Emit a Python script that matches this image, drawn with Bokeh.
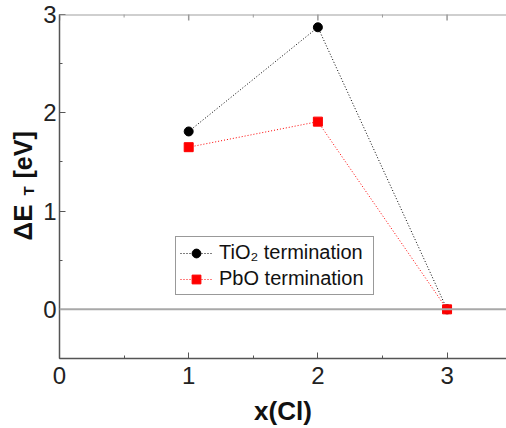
import math
from bokeh.plotting import figure
from bokeh.layouts import row
from bokeh.models import (FixedTicker, Span, Label, Legend, LegendItem, Range1d)
from bokeh.embed import file_html
from bokeh.resources import INLINE

# Chlorine content and formation energies for the two surface terminations
x_cl = [1, 2, 3]
tio2_energy = [1.81, 2.87, 0.0]
pbo_energy = [1.65, 1.91, 0.0]
x_ticks = [0, 1, 2, 3]
x_minor = [0.5, 1.5, 2.5, 3.5]
y_ticks = [0, 1, 2, 3]
y_minor = [-0.5, 0.5, 1.5, 2.5]
y_top = 3

FONT = "Liberation Sans"
LABEL_W = 38
BORDER_TOP = 14
BORDER_BOTTOM = 70

# narrow strip carrying the rotated y-axis title with its subscript
side = figure(width=LABEL_W, height=428, output_backend="svg", toolbar_location=None,
              x_axis_type=None, y_axis_type=None,
              min_border_left=0, min_border_right=0,
              min_border_top=BORDER_TOP, min_border_bottom=BORDER_BOTTOM,
              x_range=Range1d(0, 1), y_range=Range1d(0, 1))
side.outline_line_color = None
side.grid.visible = False
lbl_kw = dict(x_units="screen", y_units="screen", angle=math.pi / 2,
              text_font=FONT, text_color="#111111", text_baseline="alphabetic",
              text_align="left")
side.add_layout(Label(x=22, y=118, text="ΔE", text_font_size="26px",
                      text_font_style="bold", **lbl_kw))
side.add_layout(Label(x=28, y=163, text="T", text_font_size="15px",
                      text_font_style="bold", **lbl_kw))
side.add_layout(Label(x=22, y=180, text="[eV]", text_font_size="25px",
                      text_font_style="bold", **lbl_kw))

p = figure(width=506 - LABEL_W, height=428, output_backend="svg", toolbar_location=None,
           x_range=Range1d(0, 3.46), y_range=Range1d(-0.5, y_top),
           min_border_left=59 - LABEL_W, min_border_right=0,
           min_border_top=BORDER_TOP, min_border_bottom=BORDER_BOTTOM)
p.grid.visible = False
p.outline_line_color = None
p.background_fill_color = "white"
p.border_fill_color = "white"

def style_axis(ax, line_color="#555555", width=1.5):
    ax.axis_line_color = line_color
    ax.axis_line_width = width
    ax.major_tick_line_color = line_color
    ax.minor_tick_line_color = line_color
    ax.major_tick_in = 6
    ax.major_tick_out = 0
    ax.minor_tick_in = 3
    ax.minor_tick_out = 0
    ax.major_label_text_font = FONT
    ax.major_label_text_font_size = "24px"
    ax.major_label_text_color = "#222222"

xa = p.xaxis[0]
xa.ticker = FixedTicker(ticks=x_ticks, minor_ticks=x_minor)
style_axis(xa)
xa.major_label_standoff = 8
xa.axis_label = "x(Cl)"
xa.axis_label_text_font = FONT
xa.axis_label_text_font_style = "bold"
xa.axis_label_text_font_size = "26px"
xa.axis_label_text_color = "#111111"
xa.axis_label_standoff = 9

ya = p.yaxis[0]
ya.ticker = FixedTicker(ticks=y_ticks, minor_ticks=y_minor)
style_axis(ya)
ya.major_label_standoff = 3
ya.major_label_orientation = "horizontal"

# top frame line with inward ticks
p.add_layout(Span(location=y_top, dimension="width", line_color="#a0a0a0", line_width=2))
p.scatter(x_ticks, [y_top] * len(x_ticks), marker="dash", size=12, angle=math.pi / 2,
          line_color="#999999", line_width=1.5)
p.scatter(x_minor, [y_top] * len(x_minor), marker="dash", size=6, angle=math.pi / 2,
          line_color="#999999", line_width=1)

p.add_layout(Span(location=0, dimension="width", line_color="#a8a8a8", line_width=2))

r1l = p.line(x_cl, tio2_energy, line_color="black", line_width=1, line_dash="1 2")
r1m = p.scatter(x_cl, tio2_energy, marker="circle", size=9, fill_color="black",
                line_color="black")
r2l = p.line(x_cl, pbo_energy, line_color="red", line_width=1, line_dash="1 2")
r2m = p.scatter(x_cl, pbo_energy, marker="square", size=9, fill_color="red",
                line_color="red")

legend = Legend(items=[LegendItem(label="TiO₂ termination", renderers=[r1l, r1m]),
                       LegendItem(label="PbO termination", renderers=[r2l, r2m])],
                location=(116, 63))
legend.label_text_font = FONT
legend.label_text_font_size = "20px"
legend.label_text_color = "#111111"
legend.border_line_color = "#333333"
legend.border_line_width = 1
legend.background_fill_alpha = 1
legend.glyph_width = 32
legend.glyph_height = 22
legend.label_height = 22
legend.label_width = 150
legend.spacing = 3
legend.padding = 4
legend.margin = 0
legend.label_standoff = 7
p.add_layout(legend, "center")

layout = row(side, p, spacing=0)
open("out.html", "w").write(file_html(layout, INLINE))
